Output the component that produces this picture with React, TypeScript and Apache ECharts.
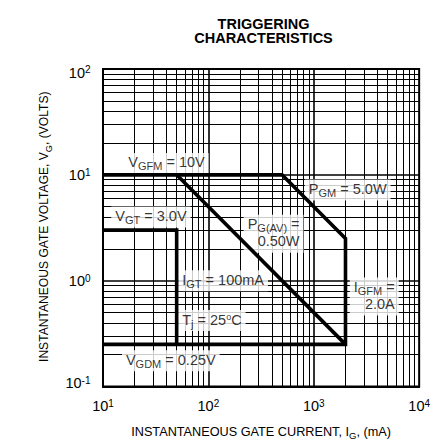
import React, { useEffect, useRef } from 'react';
import * as echarts from 'echarts';

const FONT = 'Liberation Sans, Arial, Helvetica, sans-serif';

// Axis extents
const X_MIN = 10;
const X_MAX = 10000;
const Y_MIN = 0.1;
const Y_MAX = 100;

// Boundary lines: [I_G (mA), V_G (V)]
const V_GFM_LINE = [[10, 10], [500, 10]];
const P_GM_LINE = [[500, 10], [2000, 2.5]];
const I_GFM_LINE = [[2000, 2.5], [2000, 0.25]];
const V_GDM_LINE = [[2000, 0.25], [10, 0.25]];
const P_GAV_LINE = [[50, 10], [2000, 0.25]];
const V_GT_I_GT_BOX = [[10, 3], [50, 3], [50, 0.25]];

// Log grid
const GRID_MULTIPLIERS = [2, 3, 4, 5, 6, 7, 8, 9];
const X_DECADES = [10, 100, 1000];
const Y_DECADES = [0.1, 1, 10];
const X_MAJOR = [100, 1000];
const Y_MAJOR = [1, 10];

// Annotation texts
const LABEL_TEXTS = [
  '{n|V}{s|GFM}{n| = 10V}',
  '{n|P}{s|GM}{n| = 5.0W}',
  '{n|V}{s|GT}{n| = 3.0V}',
  '{n|P}{s|G(AV)}{n| =}\n{n|0.50W}',
  '{n|I}{s|GT}{n| = 100mA}',
  '{n|T}{s|j}{n| = 25}{p|o}{n|C}',
  '{n|V}{s|GDM}{n| = 0.25V}',
  '{n|I}{s|GFM}{n| =}\n{n|2.0A}',
];
// Annotation anchors (data coordinates) and alignment
const LABEL_ANCHORS = [
  [40, 12.8],
  [2100, 7.2],
  [28.5, 4.0],
  [800, 2.77],
  [138, 1.0],
  [108, 0.42],
  [44, 0.175],
  [6400, 0.71],
];
const LABEL_ALIGN = ['center', 'center', 'center', 'right', 'center', 'center', 'center', 'right'];

const TITLE = 'TRIGGERING\nCHARACTERISTICS';
const X_NAME = '{n|INSTANTANEOUS GATE CURRENT, I}{s|G}{n|, (mA)}';
const Y_NAME = '{n|INSTANTANEOUS GATE VOLTAGE, V}{s|G}{n|, (VOLTS)}';

function buildOption() {
  const gridX = X_DECADES.flatMap((d) => GRID_MULTIPLIERS.map((m) => m * d));
  const gridY = Y_DECADES.flatMap((d) => GRID_MULTIPLIERS.map((m) => m * d));
  const envelope = [
    ...V_GFM_LINE,
    ...P_GM_LINE.slice(1),
    ...I_GFM_LINE.slice(1),
    ...V_GDM_LINE.slice(1),
  ];

  const thick = { color: '#000', width: 3.6, join: 'miter', cap: 'butt' };

  const xNameRich = {
    n: { fontSize: 12.7, lineHeight: 15, verticalAlign: 'top', color: '#000', fontFamily: FONT },
    s: { fontSize: 9.5, verticalAlign: 'bottom', color: '#000', fontFamily: FONT },
  };
  const yNameRich = {
    n: { fontSize: 12.1, lineHeight: 15, verticalAlign: 'top', color: '#000', fontFamily: FONT },
    s: { fontSize: 9.1, verticalAlign: 'bottom', color: '#000', fontFamily: FONT },
  };
  const tickRich = {
    b: { fontSize: 14.5, lineHeight: 15, verticalAlign: 'bottom', color: '#000', fontFamily: FONT },
    s: { fontSize: 10, verticalAlign: 'top', color: '#000', fontFamily: FONT },
    bx: { fontSize: 14.5, lineHeight: 23, verticalAlign: 'bottom', color: '#000', fontFamily: FONT },
    sx: { fontSize: 10, verticalAlign: 'middle', color: '#000', fontFamily: FONT },
    bm: { fontSize: 14.5, lineHeight: 23, verticalAlign: 'top', color: '#000', fontFamily: FONT },
    sm: { fontSize: 10, verticalAlign: 'top', color: '#000', fontFamily: FONT },
  };
  const annRich = {
    n: { fontSize: 14.5, lineHeight: 17, verticalAlign: 'top', color: '#000', fontFamily: FONT },
    s: { fontSize: 11, lineHeight: 17, verticalAlign: 'bottom', color: '#000', fontFamily: FONT },
    p: { fontSize: 9, lineHeight: 17, verticalAlign: 'top', color: '#000', fontFamily: FONT },
  };

  return {
    animation: false,
    backgroundColor: '#fff',
    textStyle: { fontFamily: FONT, color: '#000' },
    graphic: [
      {
        type: 'text',
        x: 263.5,
        y: 16.5,
        style: {
          text: TITLE,
          fill: '#000',
          fontSize: 14.5,
          fontWeight: 'bold',
          fontFamily: FONT,
          align: 'center',
          verticalAlign: 'top',
          lineHeight: 14.5,
        },
      },
    ],
    grid: {
      left: 103,
      right: 11.5,
      top: 69,
      bottom: 55,
      show: true,
      borderColor: '#000',
      borderWidth: 2,
      backgroundColor: 'transparent',
    },
    xAxis: {
      type: 'log',
      logBase: 10,
      min: X_MIN,
      max: X_MAX,
      name: X_NAME,
      nameLocation: 'middle',
      nameGap: 38.5,
      nameTextStyle: { rich: xNameRich },
      axisLine: { show: true, lineStyle: { color: '#000', width: 2 } },
      axisTick: { show: false },
      splitLine: { show: false },
      axisLabel: {
        margin: 11.5,
        showMinLabel: true,
        showMaxLabel: true,
        formatter: (v: number) => `{b|10}{s|${Math.round(Math.log10(v))}}`,
        rich: tickRich,
      },
    },
    yAxis: {
      type: 'log',
      logBase: 10,
      min: Y_MIN,
      max: Y_MAX,
      name: Y_NAME,
      nameLocation: 'middle',
      nameGap: 50,
      nameTextStyle: { rich: yNameRich, padding: [0, 0, 0, 2] },
      axisLine: { show: true, lineStyle: { color: '#000', width: 2 } },
      axisTick: { show: false },
      splitLine: { show: false },
      axisLabel: {
        margin: 12.5,
        showMinLabel: true,
        showMaxLabel: true,
        formatter: (v: number) => {
          const e = Math.round(Math.log10(v));
          const k = e === 2 ? 'x' : e === -1 ? 'm' : '';
          return `{b${k}|10}{s${k}|${e}}`;
        },
        rich: tickRich,
      },
    },
    series: [
      {
        name: 'grid',
        type: 'line',
        data: [[X_MIN, Y_MIN]],
        showSymbol: false,
        symbol: 'none',
        silent: true,
        lineStyle: { width: 0 },
        markLine: {
          z: 1,
          silent: true,
          animation: false,
          symbol: ['none', 'none'],
          label: { show: false },
          emphasis: { disabled: true },
          lineStyle: { color: '#000', width: 1, type: 'solid', opacity: 1 },
          data: [
            ...gridX.map((v) => ({ xAxis: v })),
            ...gridY.map((v) => ({ yAxis: v })),
            ...X_MAJOR.map((v) => ({ xAxis: v, lineStyle: { color: '#000', width: 1.6, type: 'solid' } })),
            ...Y_MAJOR.map((v) => ({ yAxis: v, lineStyle: { color: '#000', width: 1.6, type: 'solid' } })),
          ],
        },
      },
      {
        name: 'annotations',
        type: 'scatter',
        z: 3,
        silent: true,
        symbolSize: 1,
        itemStyle: { color: 'rgba(0,0,0,0)' },
        data: LABEL_TEXTS.map((t, i) => ({
          value: LABEL_ANCHORS[i],
          label: {
            show: true,
            position: 'inside',
            formatter: t,
            align: LABEL_ALIGN[i],
            verticalAlign: 'middle',
            backgroundColor: '#fff',
            padding: [2, 4, 2, 4],
            rich: annRich,
          },
        })),
      },
      {
        name: 'envelope',
        type: 'line',
        z: 4,
        data: envelope,
        symbol: 'none',
        silent: true,
        lineStyle: thick,
      },
      {
        name: 'P_G(AV)',
        type: 'line',
        z: 4,
        data: P_GAV_LINE,
        symbol: 'none',
        silent: true,
        lineStyle: thick,
      },
      {
        name: 'V_GT / I_GT',
        type: 'line',
        z: 4,
        data: V_GT_I_GT_BOX,
        symbol: 'none',
        silent: true,
        lineStyle: thick,
      },
    ],
  };
}

export default function App() {
  const ref = useRef<HTMLDivElement>(null);
  useEffect(() => {
    document.body.style.margin = '0';
    const chart = echarts.init(ref.current as HTMLDivElement, null, { renderer: 'svg' });
    chart.setOption(buildOption() as any);
    return () => chart.dispose();
  }, []);
  return (
    <div
      ref={ref}
      style={{ position: 'fixed', left: 0, top: 0, width: 433, height: 445, background: '#fff' }}
    />
  );
}
